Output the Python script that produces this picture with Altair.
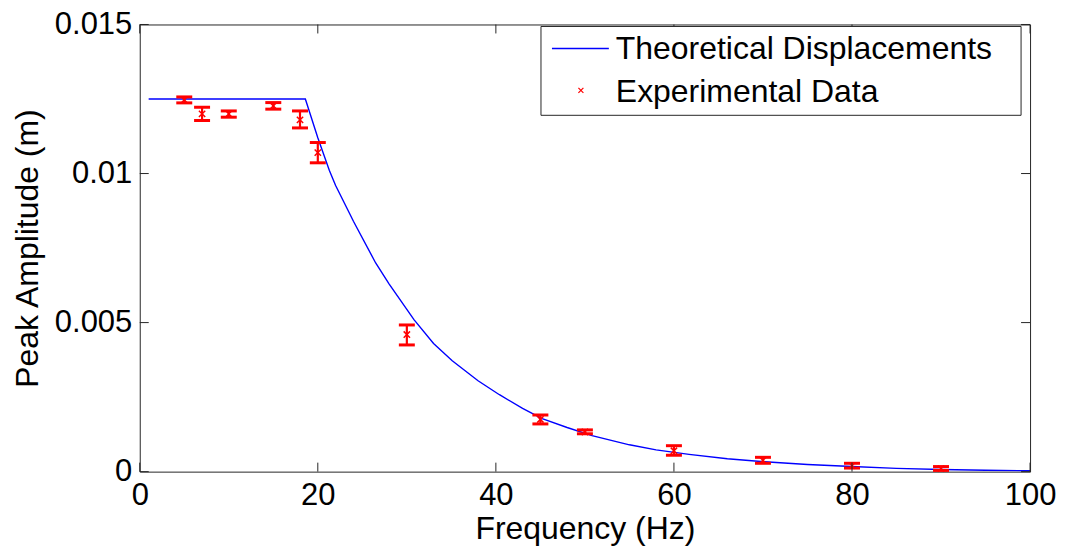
import altair as alt
import pandas as pd

# Theoretical curve
theory_freq = [1, 18.6, 20, 21.3, 22, 23.5, 24, 26.5, 28, 30.8, 33, 35.1, 38, 40.4, 43, 45.2, 48,
               50.8, 55, 58, 61.7, 66, 70.2, 75, 80, 85, 90, 95, 100]
theory_amp = [0.0125, 0.0125, 0.0112, 0.0101, 0.0096, 0.0087, 0.0084, 0.0070, 0.0063, 0.0051,
              0.0043, 0.00372, 0.00305, 0.00258, 0.00212, 0.00178, 0.00148, 0.00121, 0.0009,
              0.00073, 0.00058, 0.00043, 0.00033, 0.00024, 0.00017, 0.00011, 0.00007,
              0.000045, 0.00003]

# Experimental data with error bars
exp_freq = [5, 7, 10, 15, 18, 20, 30, 45, 50, 60, 70, 80, 90]
exp_amp = [0.01247, 0.0120, 0.0120, 0.01227, 0.0118, 0.0107, 0.0046, 0.00175, 0.00133,
           0.0007, 0.00038, 0.0002, 0.0001]
exp_lo = [0.01237, 0.01178, 0.01189, 0.01216, 0.01153, 0.01036, 0.00425, 0.0016, 0.00127,
          0.00055, 0.00028, 0.00012, 0.00004]
exp_hi = [0.01257, 0.01222, 0.0121, 0.01238, 0.0121, 0.01104, 0.00492, 0.0019, 0.0014,
          0.00087, 0.00048, 0.00028, 0.00017]

x_ticks = [0, 20, 40, 60, 80, 100]
y_ticks = [0, 0.005, 0.01, 0.015]

legend_labels = ["Theoretical Displacements", "Experimental Data"]

W, H = 892, 448
FONT = "Liberation Sans"
FS_LAB = 31
FS_TIT = 32

theory = pd.DataFrame({"f": theory_freq, "a": theory_amp})
exp = pd.DataFrame({"f": exp_freq, "a": exp_amp, "lo": exp_lo, "hi": exp_hi})
xt = pd.DataFrame({"t": x_ticks})
yt = pd.DataFrame({"t": y_ticks})

xscale = alt.Scale(domain=[0, 100], nice=False, zero=False)
yscale = alt.Scale(domain=[0, 0.015], nice=False, zero=False)

xaxis = alt.Axis(values=x_ticks, title="Frequency (Hz)", grid=False, domain=False, ticks=False,
                 labelPadding=9, titlePadding=3, format="d", labelFlush=False)
yaxis = alt.Axis(values=y_ticks, title="Peak Amplitude (m)", grid=False, domain=False, ticks=False,
                 labelPadding=8, titlePadding=10, format=".3~f", labelFlush=False)

X = alt.X("f:Q", scale=xscale, axis=xaxis)
Y = alt.Y("a:Q", scale=yscale, axis=yaxis)

line = alt.Chart(theory).mark_line(color="#0000FF", strokeWidth=1.4, clip=True).encode(x=X, y=Y)

stems = alt.Chart(exp).mark_rule(color="#FF0000", strokeWidth=2.2).encode(
    x=alt.X("f:Q", scale=xscale), y=alt.Y("lo:Q", scale=yscale), y2="hi:Q")
caps_lo = alt.Chart(exp).mark_tick(color="#FF0000", orient="horizontal", size=16, thickness=3, opacity=1).encode(
    x=alt.X("f:Q", scale=xscale), y=alt.Y("lo:Q", scale=yscale))
caps_hi = alt.Chart(exp).mark_tick(color="#FF0000", orient="horizontal", size=16, thickness=3, opacity=1).encode(
    x=alt.X("f:Q", scale=xscale), y=alt.Y("hi:Q", scale=yscale))
XSHAPE = "M-1,-1L1,1M-1,1L1,-1"
pts = alt.Chart(exp).mark_point(shape=XSHAPE, color="#FF0000", strokeWidth=1.5, size=40, opacity=1).encode(
    x=alt.X("f:Q", scale=xscale), y=alt.Y("a:Q", scale=yscale))

# inward ticks on all four sides
tk = dict(color="#262626", strokeWidth=1)
tb = alt.Chart(xt).mark_rule(**tk).encode(x=alt.X("t:Q", scale=xscale), y=alt.value(H), y2=alt.value(H - 9))
tt = alt.Chart(xt).mark_rule(**tk).encode(x=alt.X("t:Q", scale=xscale), y=alt.value(0), y2=alt.value(9))
tl = alt.Chart(yt).mark_rule(**tk).encode(y=alt.Y("t:Q", scale=yscale), x=alt.value(0), x2=alt.value(9))
tr = alt.Chart(yt).mark_rule(**tk).encode(y=alt.Y("t:Q", scale=yscale), x=alt.value(W), x2=alt.value(W - 9))

# legend
one = pd.DataFrame({"d": [0]})
lbox = alt.Chart(one).mark_rect(fill="white", stroke="#262626", strokeWidth=1).encode(
    x=alt.value(402), x2=alt.value(883), y=alt.value(2), y2=alt.value(91))
lline = alt.Chart(one).mark_rule(color="#0000FF", strokeWidth=1.4).encode(
    x=alt.value(413), x2=alt.value(470), y=alt.value(24))
lpt = alt.Chart(one).mark_point(shape=XSHAPE, color="#FF0000", strokeWidth=1.2, size=25, opacity=1).encode(
    x=alt.value(442), y=alt.value(66))
lt1 = alt.Chart(pd.DataFrame({"l": [legend_labels[0]]})).mark_text(
    font=FONT, fontSize=FS_TIT, align="left", baseline="middle", color="black").encode(
    x=alt.value(477), y=alt.value(25), text="l:N")
lt2 = alt.Chart(pd.DataFrame({"l": [legend_labels[1]]})).mark_text(
    font=FONT, fontSize=FS_TIT, align="left", baseline="middle", color="black").encode(
    x=alt.value(477), y=alt.value(68), text="l:N")

chart = alt.layer(line, stems, caps_lo, caps_hi, pts, tb, tt, tl, tr,
                  lbox, lline, lpt, lt1, lt2).properties(
    width=W, height=H,
    background="white",
    autosize=alt.AutoSizeParams(type="none"),
    padding={"left": 132, "top": 16, "right": 27, "bottom": 78},
).configure_view(stroke="#262626", strokeWidth=1).configure_axis(
    labelFont=FONT, titleFont=FONT, labelFontSize=FS_LAB, titleFontSize=FS_TIT,
    labelColor="black", titleColor="black", titleFontWeight="normal",
)

chart.save("out.html", embed_options={"renderer": "svg", "actions": False})
